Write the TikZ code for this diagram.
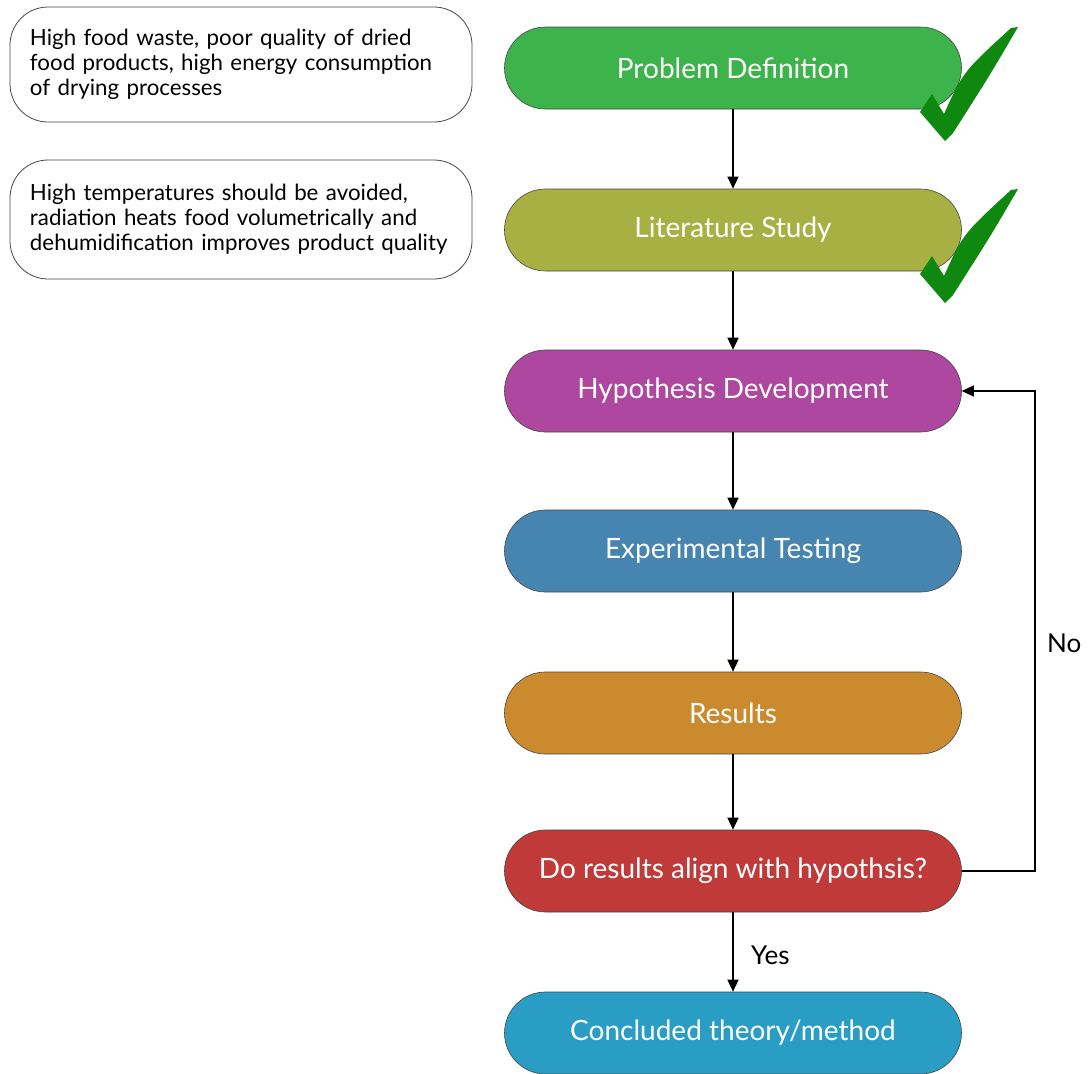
\documentclass[tikz,border=0pt]{standalone}
\usepackage{fontspec}
\setmainfont{Lato}
\usetikzlibrary{arrows.meta}
\definecolor{cPD}{RGB}{60,179,75}
\definecolor{cLS}{RGB}{168,176,67}
\definecolor{cHD}{RGB}{173,71,160}
\definecolor{cET}{RGB}{69,133,176}
\definecolor{cRE}{RGB}{204,138,46}
\definecolor{cDR}{RGB}{193,58,58}
\definecolor{cCT}{RGB}{41,157,196}
\definecolor{cCheck}{RGB}{14,136,14}
\definecolor{cBorder}{RGB}{70,70,70}
\begin{document}
\begin{tikzpicture}[x=1pt,y=-1pt,
  stepbox/.style={rectangle, rounded corners=41pt, minimum width=457pt, minimum height=82pt,
    draw=cBorder, line width=0.6pt, text=white, font=\fontsize{28}{32}\selectfont, inner sep=0pt},
  notebox/.style={rectangle, rounded corners=38pt, minimum width=462pt, draw=cBorder, line width=0.8pt,
    fill=white, text width=422pt, align=left, inner xsep=20pt, font=\fontsize{22.3}{25}\selectfont},
  arr/.style={-{Triangle[length=12pt,width=11pt]}, line width=1.3pt, black},
  lbl/.style={font=\fontsize{26}{30}\selectfont, text=black, inner sep=0pt},
  checkmark/.style={fill=cCheck, draw=none}
]
\useasboundingbox (0,0) rectangle (1088,1074);
\fill[white] (0,0) rectangle (1088,1074);

% note boxes
\node[notebox, minimum height=115pt] (n1) at (241,64.5) {High food waste, poor quality of dried\\food products, high energy consumption\\of drying processes};
\node[notebox, minimum height=119pt] (n2) at (241,219.5) {High temperatures should be avoided,\\radiation heats food volumetrically and\\dehumidification improves product quality};

% main steps
\node[stepbox, fill=cPD] (pd) at (733,68) {Problem Definition};
\node[stepbox, fill=cLS] (ls) at (733,230) {Literature Study};
\node[stepbox, fill=cHD] (hd) at (733,391) {Hypothesis Development};
\node[stepbox, fill=cET] (et) at (733,551) {Experimental Testing};
\node[stepbox, fill=cRE] (re) at (733,713) {Results};
\node[stepbox, fill=cDR] (dr) at (733,871) {Do results align with hypothsis?};
\node[stepbox, fill=cCT] (ct) at (733,1033) {Concluded theory/method};

% checkmarks
\foreach \dy in {0,162}{
  \begin{scope}[shift={(0,\dy)}]
  \fill[checkmark] (920,112) -- (932,94) -- (944,114)
     .. controls (963,72) .. (1011,28) -- (1018,27)
     .. controls (990,75) .. (953,133) -- (945,141) -- cycle;
  \end{scope}
}

% connectors
\draw[arr] (pd.south) -- (ls.north);
\draw[arr] (ls.south) -- (hd.north);
\draw[arr] (hd.south) -- (et.north);
\draw[arr] (et.south) -- (re.north);
\draw[arr] (re.south) -- (dr.north);
\draw[arr] (dr.south) -- (ct.north);
\coordinate (fb) at (1035,871);
\draw[arr] (dr.east) -- (fb) |- (hd.east);

% labels
\node[lbl, anchor=west] (no) at (1047,643) {No};
\node[lbl, anchor=west] (yes) at (751,955) {Yes};
\end{tikzpicture}
\end{document}
